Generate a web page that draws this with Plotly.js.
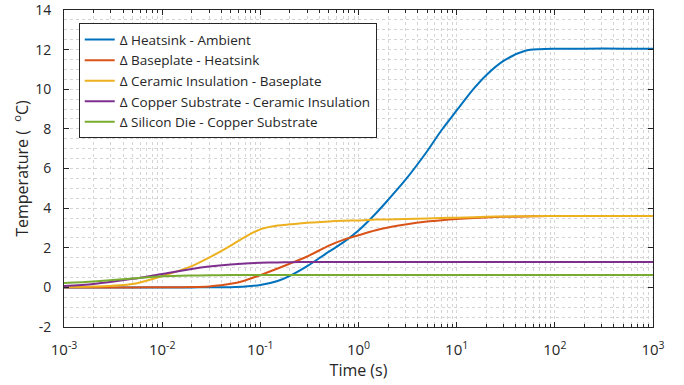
<!DOCTYPE html>
<html>
<head>
<meta charset="utf-8">
<script src="https://cdn.plot.ly/plotly-3.0.1.min.js"></script>
<style>html,body{margin:0;padding:0;background:#fff;}#chart{width:684px;height:385px;}</style>
</head>
<body>
<div id="chart"></div>
<script>
// Time (s)
const time = [0.001, 0.002, 0.005, 0.01, 0.02, 0.03, 0.05, 0.07, 0.1, 0.15, 0.2, 0.3, 0.5, 0.7, 1, 1.5, 2, 3, 5, 7, 10, 15, 20, 30, 50, 70, 100, 200, 500, 1000];

const heatsinkAmbient = [0, 0, 0, 0, 0, 0.003, 0.012, 0.04, 0.12, 0.32, 0.58, 1.07, 1.8, 2.27, 2.87, 3.73, 4.41, 5.42, 6.87, 7.93, 8.93, 10.04, 10.71, 11.43, 11.94, 12.02, 12.04, 12.05, 12.05, 12.05];
const baseplateHeatsink = [0, 0, 0, 0.002, 0.015, 0.05, 0.18, 0.35, 0.62, 0.95, 1.2, 1.56, 2.11, 2.4, 2.63, 2.88, 3.02, 3.17, 3.32, 3.39, 3.45, 3.5, 3.53, 3.56, 3.58, 3.59, 3.6, 3.6, 3.6, 3.6];
const ceramicBaseplate = [0.02, 0.04, 0.17, 0.57, 1.07, 1.5, 2.11, 2.55, 2.93, 3.12, 3.18, 3.26, 3.33, 3.36, 3.38, 3.42, 3.43, 3.45, 3.48, 3.5, 3.52, 3.54, 3.56, 3.58, 3.59, 3.6, 3.6, 3.6, 3.6, 3.6];
const copperCeramic = [0.07, 0.17, 0.43, 0.68, 0.93, 1.05, 1.16, 1.21, 1.24, 1.26, 1.27, 1.28, 1.28, 1.28, 1.28, 1.28, 1.28, 1.28, 1.28, 1.28, 1.28, 1.28, 1.28, 1.28, 1.28, 1.28, 1.28, 1.28, 1.28, 1.28];
const dieCopper = [0.22, 0.3, 0.45, 0.56, 0.6, 0.61, 0.62, 0.62, 0.62, 0.62, 0.62, 0.62, 0.62, 0.62, 0.62, 0.62, 0.62, 0.62, 0.62, 0.62, 0.62, 0.62, 0.62, 0.62, 0.62, 0.62, 0.62, 0.62, 0.62, 0.62];

const seriesNames = [
  "Δ Heatsink - Ambient",
  "Δ Baseplate - Heatsink",
  "Δ Ceramic Insulation - Baseplate",
  "Δ Copper Substrate - Ceramic Insulation",
  "Δ Silicon Die - Copper Substrate"
];
const seriesValues = [heatsinkAmbient, baseplateHeatsink, ceramicBaseplate, copperCeramic, dieCopper];
const colors = ["#0072BD", "#D95319", "#EDB120", "#7E2F8E", "#77AC30"];

const xTickVals = [0.001, 0.01, 0.1, 1, 10, 100, 1000];
const xTickText = ["10<sup>-3</sup>", "10<sup>-2</sup>", "10<sup>-1</sup>", "10<sup>0</sup>", "10<sup>1</sup>", "10<sup>2</sup>", "10<sup>3</sup>"];
const yTickVals = [-2, 0, 2, 4, 6, 8, 10, 12, 14];
const yTickText = ["-2", "0", "2", "4", "6", "8", "10", "12", "14"];

const minorVals = [];
for (let d = -3; d < 3; d++) {
  for (let k = 2; k <= 9; k++) minorVals.push(k * Math.pow(10, d));
}

const traces = seriesValues.map((v, i) => ({
  x: time, y: v, type: 'scatter', mode: 'lines', name: seriesNames[i],
  line: {color: colors[i], width: 2, shape: 'spline', smoothing: 0.8}
}));

const fontFam = "'Open Sans', 'DejaVu Sans', sans-serif";
const axisColor = '#262626';
const gridColor = '#d4d4d4';

const layout = {
  width: 684, height: 385,
  margin: {l: 64, r: 31, t: 10, b: 58},
  paper_bgcolor: '#fff', plot_bgcolor: '#fff',
  font: {family: fontFam, color: axisColor, size: 14},
  showlegend: true,
  legend: {
    x: 0.025, y: 0.958, xanchor: 'left', yanchor: 'top',
    bgcolor: '#fff', bordercolor: '#262626', borderwidth: 1,
    font: {family: fontFam, size: 13.5, color: axisColor},
    tracegroupgap: 0, itemwidth: 30
  },
  xaxis: {
    type: 'log', range: [-3, 3],
    tickmode: 'array', tickvals: xTickVals, ticktext: xTickText,
    ticks: 'inside', ticklen: 5, tickcolor: axisColor, tickwidth: 1,
    showline: true, linecolor: axisColor, linewidth: 1, mirror: 'ticks',
    showgrid: true, gridcolor: gridColor, griddash: 'dot', gridwidth: 1,
    zeroline: false,
    tickfont: {family: fontFam, size: 15, color: axisColor},
    ticklabelstandoff: 9, ticklabeloverflow: 'allow',
    minor: {tickmode: 'array', tickvals: minorVals, ticks: 'inside', ticklen: 3, tickcolor: axisColor,
            showgrid: true, gridcolor: gridColor, griddash: 'dot', gridwidth: 1},
    title: {text: 'Time (s)', font: {family: fontFam, size: 16, color: axisColor}, standoff: 4}
  },
  yaxis: {
    range: [-2, 14], tickmode: 'array', tickvals: yTickVals, ticktext: yTickText,
    ticks: 'inside', ticklen: 5, tickcolor: axisColor, tickwidth: 1,
    showline: true, linecolor: axisColor, linewidth: 1, mirror: 'ticks',
    showgrid: true, gridcolor: gridColor, griddash: 'dot', gridwidth: 1,
    zeroline: false,
    tickfont: {family: fontFam, size: 14, color: axisColor},
    ticklabelstandoff: 9, ticklabeloverflow: 'allow',
    minor: {dtick: 0.5, ticks: '', showgrid: true, gridcolor: gridColor, griddash: 'dot', gridwidth: 1},
    title: {text: 'Temperature (  <sup>o</sup>C)', font: {family: fontFam, size: 16, color: axisColor}, standoff: 2}
  }
};

Plotly.newPlot('chart', traces, layout, {displayModeBar: false, staticPlot: true});
</script>
</body>
</html>
